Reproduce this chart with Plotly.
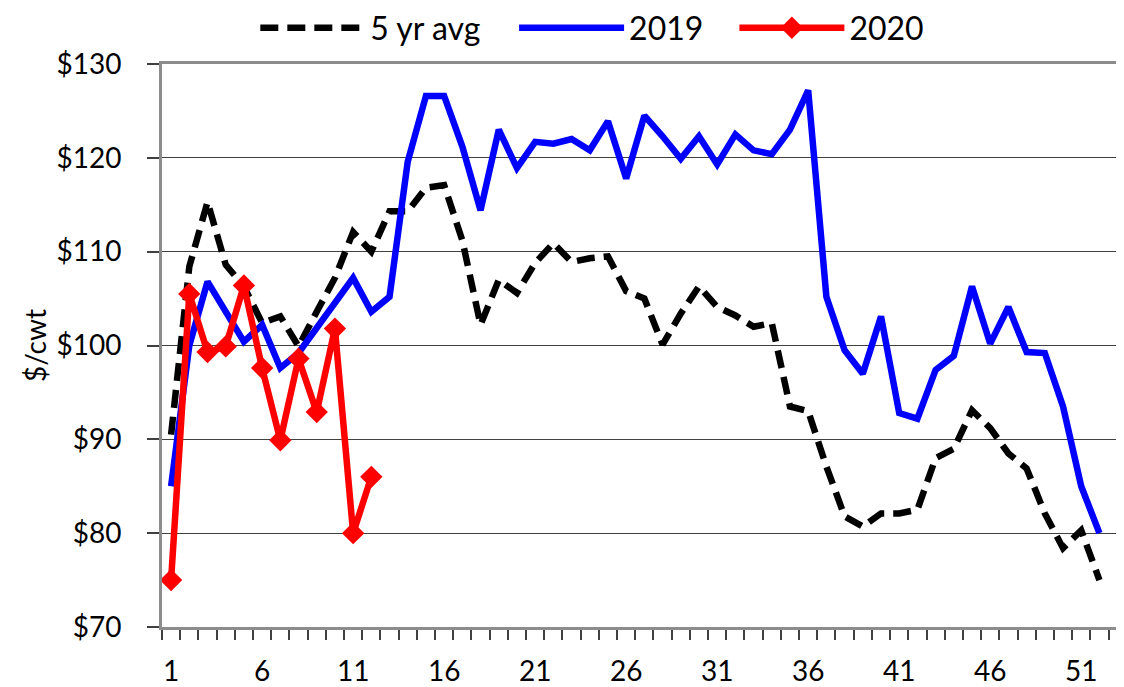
import plotly.graph_objects as go

weeks = list(range(1, 53))
week_ticks = [1, 6, 11, 16, 21, 26, 31, 36, 41, 46, 51]

avg_5yr = [90.5, 108.4, 115.3, 108.6, 106.3, 102.4, 103.1, 99.9, 103.6, 107.2,
           112.1, 110.0, 114.3, 114.3, 116.8, 117.1, 111.2, 102.2, 107.0, 105.6,
           108.8, 110.9, 108.9, 109.3, 109.5, 105.8, 105.0, 100.1, 103.4, 106.3,
           104.1, 103.2, 102.0, 102.4, 93.5, 93.0, 87.1, 81.8, 80.7, 82.1,
           82.1, 82.5, 88.0, 89.0, 93.1, 91.2, 88.5, 86.9, 82.1, 78.4,
           80.3, 75.0]

y2019 = [85.0, 100.0, 106.8, 103.6, 100.4, 102.2, 97.6, 99.2, 101.8, 104.5,
         107.2, 103.6, 105.2, 119.6, 126.6, 126.6, 121.2, 114.4, 123.0, 118.9,
         121.7, 121.5, 122.0, 120.8, 123.9, 117.8, 124.5, 122.3, 119.9, 122.3,
         119.3, 122.5, 120.8, 120.4, 123.0, 127.2, 105.2, 99.5, 97.0, 103.1,
         92.8, 92.2, 97.4, 98.9, 106.3, 100.2, 104.1, 99.3, 99.2, 93.5,
         85.0, 80.0]

y2020 = [75.0, 105.5, 99.3, 99.9, 106.4, 97.6, 89.9, 98.6, 92.9, 101.8, 80.0, 86.0]

FONT = "Lato, 'Open Sans', Arial, sans-serif"

fig = go.Figure()
fig.add_trace(go.Scatter(
    x=weeks, y=avg_5yr, mode="lines", name="5 yr avg", legend="legend",
    line=dict(color="black", width=6.5, dash="18px,9px"),
))
fig.add_trace(go.Scatter(
    x=weeks, y=y2019, mode="lines", name="2019", legend="legend2",
    line=dict(color="#0000FF", width=6.5),
))
fig.add_trace(go.Scatter(
    x=weeks[:len(y2020)], y=y2020, mode="lines+markers", name="2020", legend="legend3",
    line=dict(color="#FF0000", width=6.5),
    marker=dict(symbol="diamond", size=15, color="#FF0000",
                line=dict(color="#FF0000", width=2)),
))

leg_common = dict(orientation="h", xanchor="left", y=1.064, yanchor="middle",
                  font=dict(family=FONT, size=32), bgcolor="rgba(0,0,0,0)",
                  itemwidth=105)

fig.update_layout(
    width=1116, height=679,
    margin=dict(l=154, r=0, t=56, b=60, autoexpand=False),
    paper_bgcolor="white", plot_bgcolor="white",
    font=dict(family=FONT, size=28, color="black"),
    showlegend=True,
    legend=dict(x=0.097, **leg_common),
    legend2=dict(x=0.366, **leg_common),
    legend3=dict(x=0.595, **leg_common),
)

fig.update_xaxes(
    range=[0.5, 53.35], tickmode="array", tickvals=week_ticks,
    ticks="outside", ticklen=10, tickcolor="rgba(0,0,0,0)",
    ticklabelstandoff=7, automargin=False,
    showgrid=False, zeroline=False,
    showline=True, linecolor="#8c8c8c", linewidth=3, mirror=True,
    minor=dict(tickmode="linear", tick0=0.5, dtick=1, ticks="outside",
               ticklen=10, tickcolor="#404040", tickwidth=1.5, showgrid=False),
    tickfont=dict(family=FONT, size=28),
)

fig.update_yaxes(
    range=[70, 130], tickmode="linear", tick0=70, dtick=10, tickprefix="$",
    ticks="outside", ticklen=12, tickcolor="#404040", tickwidth=1.5,
    ticklabelstandoff=20, automargin=False,
    showgrid=True, gridcolor="#404040", gridwidth=1.3, zeroline=False,
    showline=True, linecolor="#8c8c8c", linewidth=3,
    tickfont=dict(family=FONT, size=28),
    title=dict(text="$/cwt", font=dict(family=FONT, size=28), standoff=2),
)

fig.write_html("out.html")
